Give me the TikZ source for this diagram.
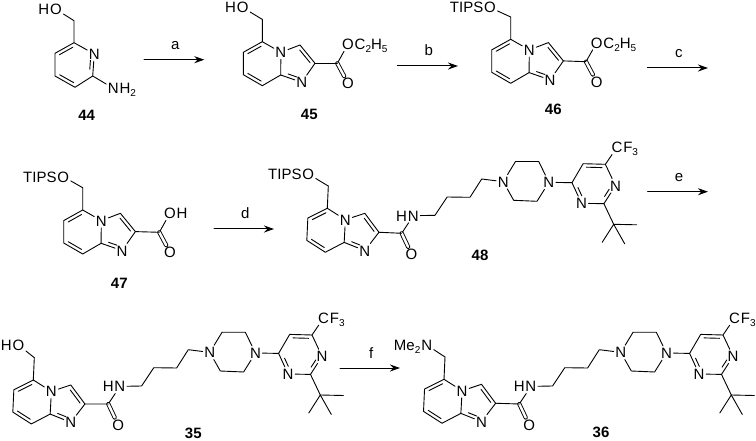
\documentclass[tikz,border=0pt]{standalone}
\usepackage{fontspec}
\setmainfont{Liberation Sans}
\usetikzlibrary{positioning,calc,arrows.meta}
\newcommand{\lowr}[1]{\raisebox{-3pt}{\fontsize{10}{10}\selectfont #1}}
% inner line of a ring double bond, first atom to second clockwise
\newcommand{\dbond}[3][.15]{\draw ($(#2)!#1!(#3)!3.4pt!-90:(#3)$) -- ($(#3)!#1!(#2)!3.4pt!90:(#2)$);}
\tikzset{
	atom/.style={inner sep=1.2pt,text height=11pt,text depth=0pt,font=\fontsize{15}{17}\selectfont},
	tail/.style={atom,inner sep=0pt,node distance=-1.2pt},
	num/.style={inner sep=0pt,font=\fontsize{15}{17}\selectfont\bfseries},
	step label/.style={inner sep=0pt,font=\fontsize{15}{17}\selectfont},
	co/.style={double,double distance=2.4pt},
	rxn/.style={-{Stealth[length=10pt,width=7pt]},line width=1pt},
	core/.pic={
		\coordinate (C5) at (0,0);
		\coordinate (CH) at (0,-22.3);
		\node[atom] (N4) at (18.6,10.6) {N};
		\coordinate (C8a) at (18.4,33.3);
		\coordinate (C8) at (0,44);
		\coordinate (C7) at (-19,33);
		\coordinate (C6) at (-19,10.6);
		\coordinate (C3) at (37.7,3.3);
		\coordinate (C2) at (52.7,21.6);
		\node[atom] (N1) at (39.4,40.6) {N};
		\draw (CH) -- (C5) -- (N4) -- (C3) -- (C2) -- (N1) -- (C8a) -- (N4);
		\draw (C8a) -- (C8) -- (C7) -- (C6) -- (C5);
		\dbond{C6}{C5}
		\dbond{C8}{C7}
		\dbond{C3}{C2}
		\dbond[.3]{N1}{C8a}
	},
	carboxyl/.pic={
		\coordinate (C) at (0,0);
		\node[atom] (O1) at (10.7,20) {O};
		\node[atom] (O2) at (10.7,-19) {O};
		\node[tail,right=of O2] (R) {\tikzpictext};
		\draw (C) -- (O2);
		\draw[co] (C) -- (O1);
	},
	sidechain/.pic={
		\coordinate (C) at (0,0);
		\node[atom] (O) at (9.8,20.7) {O};
		\node[atom] (NH) at (11.6,-17.6) {N};
		\node[tail,left=of NH] (H) {H};
		\coordinate (a) at (33.3,-18);
		\coordinate (b) at (45.5,-36.3);
		\coordinate (c) at (68.3,-36);
		\coordinate (d) at (80,-54.3);
		\node[atom] (P1) at (101.5,-51.6) {N};
		\coordinate (p2) at (113.8,-71.8);
		\coordinate (p3) at (137,-71.8);
		\node[atom] (P4) at (147.2,-51) {N};
		\coordinate (p5) at (135.3,-32);
		\coordinate (p6) at (112,-33);
		\coordinate (r4) at (170.3,-50.6);
		\coordinate (r5) at (181.4,-69.6);
		\coordinate (r6) at (203.7,-69);
		\node[atom] (r1) at (213.8,-47.6) {N};
		\coordinate (r2) at (202.2,-29.6);
		\node[atom] (r3) at (179.8,-30) {N};
		\node[atom] (CF) at (215.3,-86) {C};
		\node[tail,right=of CF] (F) {F\lowr{3}};
		\coordinate (t) at (212,-9);
		\coordinate (t1) at (235,-8.5);
		\coordinate (t2) at (200.5,9);
		\coordinate (t3) at (223,10.5);
		\draw (C) -- (NH) -- (a) -- (b) -- (c) -- (d) -- (P1) -- (p2) -- (p3) -- (P4) -- (p5) -- (p6) -- (P1);
		\draw[co] (C) -- (O);
		\draw (P4) -- (r4) -- (r5) -- (r6) -- (r1) -- (r2) -- (r3) -- (r4);
		\draw (r6) -- (CF);
		\draw (r2) -- (t) -- (t1);
		\draw (t2) -- (t) -- (t3);
		\dbond{r5}{r6}
		\dbond[.3]{r1}{r2}
		\dbond[.3]{r3}{r4}
	}
}
\begin{document}
\begin{tikzpicture}[x=1pt,y=-1pt,line width=.9pt,line cap=round,line join=round]
	\useasboundingbox (0,0) rectangle (756,441);
	% 44
	\coordinate (c6) at (74,42.7);
	\coordinate (ch) at (74,20.7);
	\node[atom] (n44) at (94.3,54) {N};
	\coordinate (c2) at (92.7,76);
	\coordinate (c3) at (75,87.3);
	\coordinate (c4) at (55,76);
	\coordinate (c5) at (55,53.3);
	\node[atom] (o44) at (56,9.3) {O};
	\node[tail,left=of o44] (h44) {H};
	\node[atom] (nh) at (113.3,88.3) {N};
	\node[tail,right=of nh] (h2) {H\lowr{2}};
	\draw (o44) -- (ch) -- (c6) -- (n44) -- (c2) -- (c3) -- (c4) -- (c5) -- (c6);
	\draw (c2) -- (nh);
	\dbond[.3]{n44}{c2}
	\dbond{c3}{c4}
	\dbond{c5}{c6}
	\node[num] (l44) at (86.7,115) {44};
	% 45
	\pic (m45) at (262.3,41.7) {core};
	\pic[pic text={C\lowr{2}H\lowr{5}}] (e45) at (337.3,63.3) {carboxyl};
	\draw (m45C2) -- (e45C);
	\node[atom] (o45) at (242.7,7.5) {O};
	\node[tail,left=of o45] (h45) {H};
	\draw (o45) -- (m45CH);
	\node[num] (l45) at (309.3,114) {45};
	% 46
	\pic (m46) at (510.7,39.3) {core};
	\pic[pic text={C\lowr{2}H\lowr{5}}] (e46) at (586,61.7) {carboxyl};
	\draw (m46C2) -- (e46C);
	\node[atom] (o46) at (490,7.5) {O};
	\node[tail,left=of o46] (t46) {TIPS};
	\draw (o46) -- (m46CH);
	\node[num] (l46) at (553.3,109) {46};
	% 47
	\pic (m47) at (82.7,210) {core};
	\pic[pic text={H}] (e47) at (159.3,232.3) {carboxyl};
	\draw (m47C2) -- (e47C);
	\node[atom] (o47) at (63.3,176.7) {O};
	\node[tail,left=of o47] (t47) {TIPS};
	\draw (o47) -- (m47CH);
	\node[num] (l47) at (119.3,283.5) {47};
	% 48
	\pic[rotate=-2.6] (m48) at (327.3,208.3) {core};
	\pic (s48) at (401.7,233.3) {sidechain};
	\draw (m48C2) -- (s48C);
	\node[atom] (o48) at (308.3,174) {O};
	\node[tail,left=of o48] (t48) {TIPS};
	\draw (o48) -- (m48CH);
	\node[num] (l48) at (480,255) {48};
	% 35
	\pic[rotate=-2.6] (m35) at (33.3,380) {core};
	\pic (s35) at (108.3,404) {sidechain};
	\draw (m35C2) -- (s35C);
	\node[atom] (o35) at (18.5,345) {O};
	\node[tail,left=of o35] (h35) {H};
	\draw (o35) -- (m35CH);
	\node[num] (l35) at (193.3,433) {35};
	% 36
	\pic[rotate=-2.6] (m36) at (444,379.3) {core};
	\pic (s36) at (519.3,404) {sidechain};
	\draw (m36C2) -- (s36C);
	\node[atom] (n36) at (426.7,345) {N};
	\node[tail,left=of n36] (me36) {Me\lowr{2}};
	\draw (n36) -- (m36CH);
	\node[num] (l36) at (601,432.7) {36};
	% arrows
	\foreach \nm/\lbl/\xa/\xb/\yy in {a/a/144/204.3/59.7,b/b/397.3/458/66,c/c/647.3/708/68,d/d/214/274/229,e/e/647.7/708/191.7,f/f/340/400/368}{
		\coordinate (s\nm) at (\xa,\yy);
		\coordinate (t\nm) at (\xb,\yy);
		\draw[rxn] (s\nm) -- (t\nm);
		\node[step label,above=9.5pt of $(s\nm)!.52!(t\nm)$] (r\nm) {\lbl};
	}
\end{tikzpicture}
\end{document}
